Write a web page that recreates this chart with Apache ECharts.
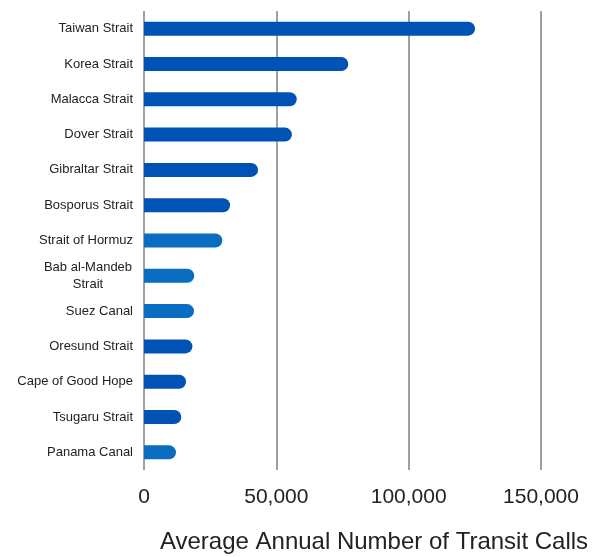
<!DOCTYPE html>
<html>
<head>
<meta charset="utf-8">
<script src="https://cdn.jsdelivr.net/npm/echarts@6/dist/echarts.min.js"></script>
<style>html,body{margin:0;padding:0;background:#fff}#c{width:600px;height:557px}</style>
</head>
<body>
<div id="c"></div>
<script>
const categories = ["Taiwan Strait","Korea Strait","Malacca Strait","Dover Strait","Gibraltar Strait","Bosporus Strait","Strait of Hormuz","Bab al-Mandeb Strait","Suez Canal","Oresund Strait","Cape of Good Hope","Tsugaru Strait","Panama Canal"];
const transitCalls = [125100,77200,57700,55900,43100,32500,29600,19000,18900,18300,15900,14100,12100];
const barColors = ["#0052b4","#0052b4","#0052b4","#0052b4","#0052b4","#0052b4","#0a6dc2","#0a6dc2","#0a6dc2","#0052b4","#0052b4","#0052b4","#0a6dc2"];
const xTicks = [0,50000,100000,150000];

const chart = echarts.init(document.getElementById('c'));
chart.setOption({
  animation:false,
  grid:{left:144,right:59,top:11,bottom:87,containLabel:false,outerBoundsMode:'none'},
  xAxis:{
    type:'value',min:xTicks[0],max:xTicks[xTicks.length-1],interval:50000,
    axisLine:{show:false},
    axisTick:{show:false},
    splitLine:{show:true,lineStyle:{color:'#a0a0a0',width:2}},
    axisLabel:{fontFamily:'Liberation Sans',fontSize:21,color:'#222',margin:17,
      formatter:v=>v.toLocaleString('en-US')},
    name:'Average Annual Number of Transit Calls',
    nameLocation:'middle',nameGap:60,
    nameTextStyle:{fontFamily:'Liberation Sans',fontSize:24,color:'#222',padding:[0,0,0,63]}
  },
  yAxis:{
    type:'category',data:categories,inverse:true,
    axisLine:{show:false},axisTick:{show:false},
    axisLabel:{fontFamily:'Liberation Sans',fontSize:13,color:'#222',margin:11,
      formatter:v=> v==='Bab al-Mandeb Strait' ? '{c|Bab al-Mandeb}\n{c|Strait}' : v,
      rich:{c:{fontFamily:'Liberation Sans',fontSize:13,color:'#222',width:90,align:'center',lineHeight:17}}
    }
  },
  series:[{
    type:'bar',barWidth:14,
    data:transitCalls.map((v,i)=>({value:v,itemStyle:{color:barColors[i]}})),
    itemStyle:{borderRadius:[0,7,7,0]}
  }]
});
</script>
</body>
</html>
